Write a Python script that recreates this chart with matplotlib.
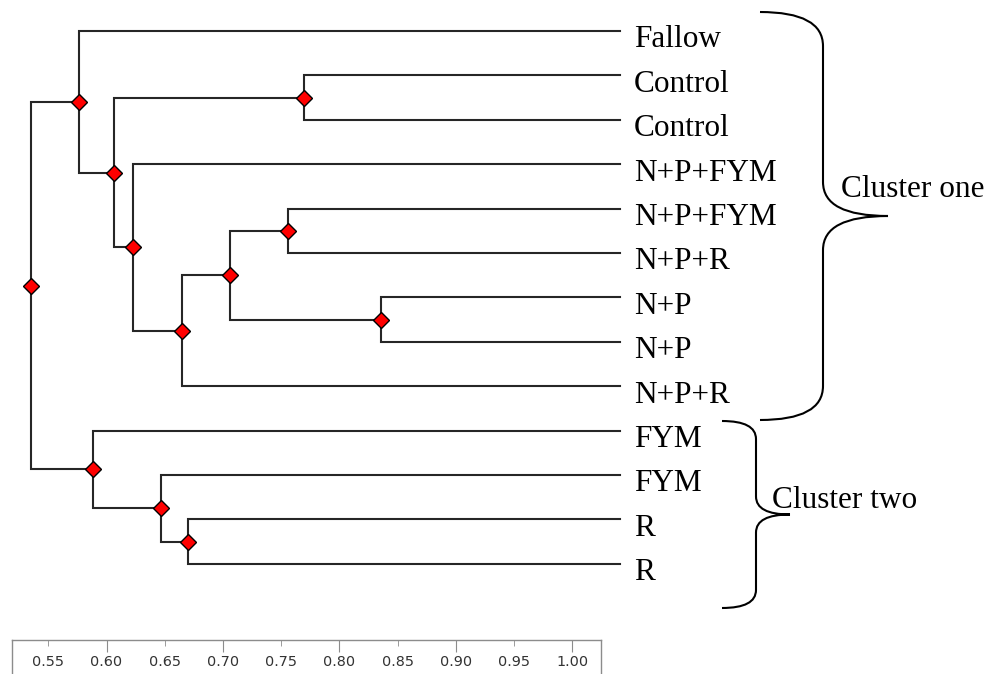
import matplotlib
matplotlib.use('Agg')
import matplotlib.pyplot as plt
from matplotlib.path import Path
from matplotlib.patches import PathPatch
from matplotlib.transforms import blended_transform_factory

# leaves, top to bottom
leaf_labels = ['Fallow', 'Control', 'Control', 'N+P+FYM', 'N+P+FYM', 'N+P+R',
               'N+P', 'N+P', 'N+P+R', 'FYM', 'FYM', 'R', 'R']

# merges: (left child, right child, similarity); ids >= 13 are earlier merges
merge_left = [1, 4, 6, 14, 16, 3, 13, 0, 11, 10, 9, 20]
merge_right = [2, 5, 7, 15, 8, 17, 18, 19, 12, 21, 22, 23]
merge_sim = [0.770, 0.756, 0.836, 0.706, 0.665, 0.623, 0.606, 0.576,
             0.670, 0.647, 0.588, 0.535]
leaf_sim = 1.041

scale_major = [0.60, 0.70, 0.80, 0.90, 1.00]
scale_minor = [0.55, 0.65, 0.75, 0.85, 0.95]

cluster_names = ['Cluster one', 'Cluster two']

W, H = 988, 674
LINE = '#262626'


def px(x, y):
    # pixel position -> figure fraction
    return x / W, 1 - y / H


def brace(fig, x_end, x_mid, x_tip, y_top, y_bot, rv):
    ym = (y_top + y_bot) / 2.0
    pts = [(x_end, y_top), (x_mid, y_top), (x_mid, y_top + rv),
           (x_mid, ym - rv), (x_mid, ym), (x_tip, ym),
           (x_mid, ym), (x_mid, ym + rv),
           (x_mid, y_bot - rv), (x_mid, y_bot), (x_end, y_bot)]
    codes = [Path.MOVETO, Path.CURVE3, Path.CURVE3,
             Path.LINETO, Path.CURVE3, Path.CURVE3,
             Path.CURVE3, Path.CURVE3,
             Path.LINETO, Path.CURVE3, Path.CURVE3]
    path = Path([px(x, y) for x, y in pts], codes)
    fig.add_artist(PathPatch(path, facecolor='none', edgecolor='black',
                             lw=1.5, transform=fig.transFigure))


def draw_tree(ax):
    n = len(leaf_labels)
    xs = [leaf_sim] * n
    ys = list(range(n))
    for a, b, h in zip(merge_left, merge_right, merge_sim):
        ax.plot([xs[a], h, h, xs[b]], [ys[a], ys[a], ys[b], ys[b]],
                color=LINE, lw=1.5, solid_joinstyle='miter', zorder=2)
        xs.append(h)
        ys.append((ys[a] + ys[b]) / 2.0)
    ax.plot(xs[n:], ys[n:], 'D', color='red', markersize=8.5,
            markeredgecolor='black', markeredgewidth=1.0, zorder=3)
    for i, lbl in enumerate(leaf_labels):
        ax.text(leaf_sim + 0.012, i + 0.37, lbl, fontsize=22.5,
                family='Liberation Serif', va='baseline', ha='left')


fig = plt.figure(figsize=(9.88, 6.74), dpi=100)

# main axes covers the whole picture; x in similarity, y in leaf rows
ax = fig.add_axes([0, 0, 1, 1])
ax.set_xlim(0.55 - 48.3 / 1164.5, 0.55 + (W - 48.3) / 1164.5)
ax.set_ylim((H - 31) / 44.4, -31 / 44.4)
ax.axis('off')
draw_tree(ax)

# cluster braces and names
brace(fig, 760, 823, 888, 12, 420, 34)
brace(fig, 722, 756, 790, 421, 608, 18)
fig.text(*px(841, 197), cluster_names[0], fontsize=22.5,
         family='Liberation Serif', va='baseline')
fig.text(*px(772, 508), cluster_names[1], fontsize=22.5,
         family='Liberation Serif', va='baseline')

# similarity scale bar at the bottom (box top at y=640 px, runs off the edge)
x0, x1 = 12, 601
bar_top, bar_bot = 640, H + 10
sax = fig.add_axes([x0 / W, (H - bar_bot) / H, (x1 - x0) / W,
                    (bar_bot - bar_top) / H])
sax.set_xlim(0.55 + (x0 - 48.3) / 1164.5, 0.55 + (x1 - 48.3) / 1164.5)
sax.set_ylim(bar_bot, bar_top)
sax.patch.set_alpha(0)
sax.spines['bottom'].set_visible(False)
for s in ['top', 'left', 'right']:
    sax.spines[s].set_color('#8c8c8c')
    sax.spines[s].set_linewidth(1.0)
sax.xaxis.tick_top()
sax.set_xticks(scale_major)
sax.set_xticks(scale_minor, minor=True)
sax.tick_params(axis='x', which='major', direction='in', length=8.5,
                color='#8c8c8c', labeltop=False, labelbottom=False)
sax.tick_params(axis='x', which='minor', direction='in', length=4,
                color='#8c8c8c')
sax.set_yticks([])
for v in sorted(scale_major + scale_minor):
    sax.text(v, 662, '%.2f' % v, fontsize=10.4, color='#333333',
             family='DejaVu Sans', ha='center', va='center')

fig.savefig('out.png', dpi=100)
